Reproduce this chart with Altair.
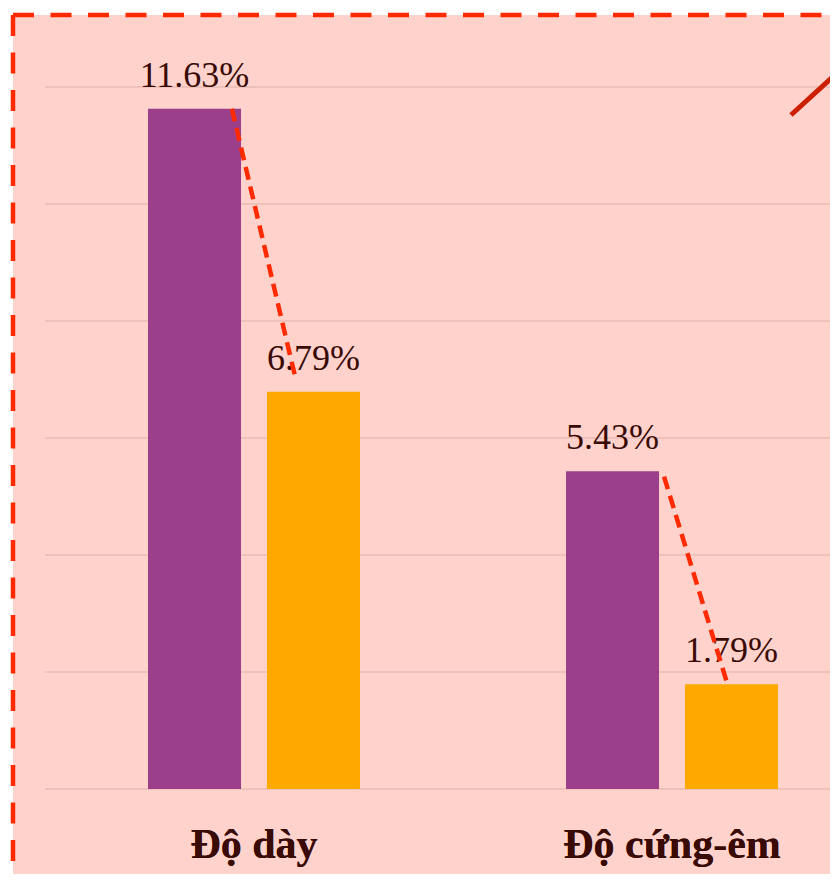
import altair as alt
import pandas as pd

categories = ["Độ dày", "Độ cứng-êm"]
series = ["Trước", "Sau"]
values_before = [11.63, 5.43]
values_after = [6.79, 1.79]
grid_values = [0, 2, 4, 6, 8, 10, 12]

# connector lines (category index units, value units)
conn_x_start = [0.447, 1.481]
conn_x_end = [0.600, 1.634]
conn_y_start = [11.63, 5.34]
conn_y_end = [7.0, 1.76]

PURPLE = "#9C3F8A"
ORANGE = "#FFA800"
PINK = "#FFD3CC"
GRID = "#E8BCB4"
TEXT = "#3A0A05"
RED = "#FF2A00"

rows = []
for c, b, a in zip(categories, values_before, values_after):
    rows.append({"cat": c, "series": series[0], "value": b, "label": f"{b:.2f}%"})
    rows.append({"cat": c, "series": series[1], "value": a, "label": f"{a:.2f}%"})
df = pd.DataFrame(rows)

PLOT_W = 785
RANGE_W = 836
PLOT_H = 702

one = pd.DataFrame({"a": [0]})

ysc = alt.Scale(domain=[0, 12], nice=False, zero=True)
xsc = alt.Scale(domain=categories, range=[0, RANGE_W], paddingInner=0, paddingOuter=0)
xoff = alt.XOffset("series:N", sort=series,
                   scale=alt.Scale(domain=series, paddingInner=0.218, paddingOuter=0.866))

bg = alt.Chart(one).mark_rect(color=PINK).encode(
    x=alt.value(-32), x2=alt.value(900), y=alt.value(-72), y2=alt.value(900)
)

grid = alt.Chart(pd.DataFrame({"g": grid_values})).mark_rule(
    color=GRID, strokeWidth=1.5
).encode(
    y=alt.Y("g:Q", scale=ysc, axis=None),
    x=alt.value(0), x2=alt.value(900)
)

base = alt.Chart(df).encode(
    x=alt.X("cat:N", sort=categories, scale=xsc,
            axis=alt.Axis(title=None, orient="bottom", labelAngle=0, ticks=False, tickSize=0,
                          domain=False, grid=False, zindex=1, labelLimit=0,
                          labelFont="Liberation Serif", labelFontWeight="bold",
                          labelFontSize=42, labelColor=TEXT,
                          labelBaseline="alphabetic", labelPadding=68)),
    xOffset=xoff,
    y=alt.Y("value:Q", scale=ysc, axis=None),
)

bars = base.mark_bar().encode(
    color=alt.Color("series:N", scale=alt.Scale(domain=series, range=[PURPLE, ORANGE]),
                    legend=None)
)

texts = base.mark_text(dy=-22, baseline="alphabetic", fontSize=36,
                       font="Liberation Serif", color=TEXT).encode(text="label:N")

conn_df = pd.DataFrame({"x1": conn_x_start, "x2": conn_x_end,
                        "y1": conn_y_start, "y2": conn_y_end})
conn = alt.Chart(conn_df).mark_rule(color=RED, strokeWidth=4.5, strokeDash=[13, 7]).encode(
    x=alt.X("x1:Q", scale=alt.Scale(domain=[0, 2], range=[0, RANGE_W], nice=False, zero=False), axis=None),
    x2="x2:Q",
    y=alt.Y("y1:Q", scale=ysc, axis=None),
    y2="y2:Q",
)

border_top = alt.Chart(one).mark_rule(color=RED, strokeWidth=4.5, strokeDash=[21, 16.5]).encode(
    x=alt.value(-32), x2=alt.value(900), y=alt.value(-72)
)
border_left = alt.Chart(one).mark_rule(color=RED, strokeWidth=4.5, strokeDash=[21, 16.5]).encode(
    x=alt.value(-32), y=alt.value(-72), y2=alt.value(900)
)
corner = alt.Chart(one).mark_rule(color="#CC1F00", strokeWidth=5).encode(
    x=alt.value(746), y=alt.value(28), x2=alt.value(860), y2=alt.value(-76)
)

chart = alt.layer(bg, grid, bars, texts, conn, border_top, border_left, corner).resolve_scale(
    x="independent"
).properties(
    width=PLOT_W, height=PLOT_H,
    autosize=alt.AutoSizeParams(type="none"),
    padding={"left": 37, "top": 79, "right": 0, "bottom": 85},
).configure_view(stroke=None).configure(background="white")

chart.save("out.html", embed_options={"renderer": "svg", "actions": False})
